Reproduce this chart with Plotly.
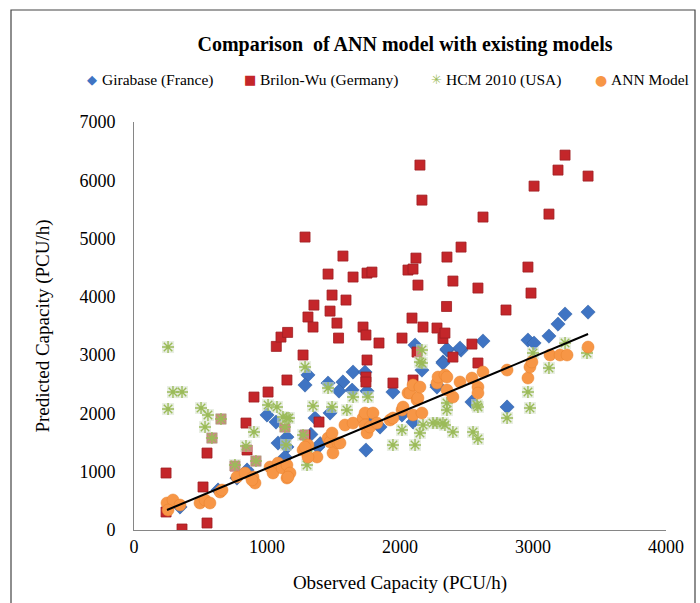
import plotly.graph_objects as go

# ---------------- data ----------------
gira_x = [1000, 1068, 1150, 1083, 1135, 850, 774, 632, 346, 1308, 1286, 1459, 1571, 1541,
          1647, 1737, 1752, 1947, 2113, 2165, 2323, 2353, 1150, 1135, 1361, 1383, 1744, 1774,
          1474, 2098, 2278, 3241, 3414, 3188, 3120, 2962, 3008, 2624, 2459, 2353, 2323, 2541,
          2805, 2278, 2451, 1850, 2015, 1330, 1400, 1640]
gira_y = [1973, 1852, 1595, 1492, 1235, 1029, 892, 686, 395, 2659, 2487, 2521, 2539, 2384,
          2710, 2710, 2384, 2367, 3173, 2744, 2882, 3087, 1424, 1252, 1921, 1424, 1372, 1973,
          2007, 1852, 2487, 3705, 3739, 3533, 3327, 3259, 3207, 3242, 3087, 3104, 2864, 2196,
          2110, 2453, 3122, 1767, 1973, 1640, 1480, 2400]

bril_x = [241, 241, 361, 519, 549, 549, 586, 654, 842, 850, 917, 759, 902, 1008, 1150, 1070,
          1105, 1155, 1135, 1391, 1286, 1271, 1286, 1308, 1346, 1353, 1474, 1459, 1489, 1526,
          1538, 1571, 1594, 1647, 1722, 1744, 1752, 1789, 1842, 1752, 1744, 1744, 1947, 2015,
          2090, 2098, 2128, 2060, 2098, 2120, 2135, 2150, 2165, 2173, 2278, 2323, 2350, 2353,
          2338, 2398, 2459, 2541, 2586, 2624, 2797, 2962, 2985, 3008, 3120, 3188, 3241, 3414,
          2398, 2586]
bril_y = [978, 309, 17, 738, 120, 1320, 1578, 1904, 1835, 1372, 1183, 1098, 2281, 2367, 2573,
          3150, 3310, 3390, 1767, 1852, 1630, 3002, 5026, 3654, 3482, 3859, 3756, 4391, 4031,
          3550, 3293, 4700, 3945, 4340, 3482, 3345, 4408, 4425, 3208, 2916, 2624, 2539, 2521,
          3293, 3636, 2573, 3053, 4460, 4477, 4665, 4202, 6261, 5660, 3482, 3465, 3285, 3835,
          4683, 3379, 4271, 4854, 3190, 4151, 5369, 3774, 4511, 4065, 5900, 5420, 6175, 6432,
          6072, 2967, 2865]

hcm_x = [256, 293, 361, 256, 504, 556, 534, 586, 654, 902, 842, 917, 759, 1008, 1075, 1120,
         1165, 1135, 1143, 1286, 1346, 1150, 1489, 1601, 1647, 1759, 1459, 2165, 2150, 1947,
         2015, 2113, 2173, 2248, 2323, 1308, 1271, 1301, 2353, 2278, 2338, 2398, 2549, 2586,
         2586, 2805, 2962, 2977, 3120, 3241, 3000, 3406, 2353, 2165, 2150, 2579]
hcm_y = [3139, 2367, 2367, 2075, 2093, 1973, 1767, 1578, 1904, 1681, 1441, 1183, 1115, 2144,
         2110, 1938, 1921, 1767, 1458, 2796, 2127, 1921, 2110, 2058, 2281, 2281, 2436, 3087,
         2882, 1458, 1715, 1458, 1801, 1835, 1835, 1407, 1630, 1115, 2058, 1835, 1801, 1681,
         1681, 1561, 2110, 1921, 2367, 2093, 2779, 3207, 3036, 3036, 2178, 2864, 1664, 2144]

ann_x = [248, 293, 346, 256, 496, 534, 571, 647, 662, 774, 835, 895, 910, 887, 1023, 1045,
         1083, 1113, 1150, 1173, 1150, 1158, 1271, 1308, 1376, 1286, 1308, 1459, 1474, 1489,
         1496, 1534, 1549, 1586, 1647, 1722, 1737, 1737, 1752, 1774, 1797, 1827, 1925, 1947,
         2015, 2023, 2060, 2075, 2098, 2098, 2128, 2135, 2150, 2165, 2278, 2286, 2338, 2353,
         2353, 2398, 2451, 2541, 2586, 2586, 2624, 2805, 2962, 2977, 2992, 3128, 3203, 3256,
         3414]
ann_y = [463, 515, 429, 343, 463, 515, 463, 652, 686, 909, 978, 909, 806, 858, 1081, 978,
         1149, 1063, 1115, 978, 892, 909, 1372, 1458, 1252, 1424, 1252, 1578, 1509, 1664,
         1321, 1492, 1492, 1801, 1835, 1921, 2007, 1801, 1664, 1767, 2007, 1835, 1887, 1921,
         2058, 2110, 2350, 2350, 2487, 1973, 2230, 2264, 2453, 2007, 2521, 2624, 2659, 2624,
         2401, 2281, 2539, 2607, 2453, 2350, 2710, 2744, 2607, 2796, 2882, 3002, 3002, 3002,
         3139]

trend_x = [248, 3414]
trend_y = [343, 3362]

series_names = ["Girabase (France)", "Brilon-Wu (Germany)", "HCM 2010 (USA)", "ANN Model"]
series_colors = ["#3F74C3", "#C4262A", "#9BBB59", "#F79646"]
legend_glyphs = ["\u25C6", "\u25A0", "\u2733", "\u25CF"]

title_text = "Comparison  of ANN model with existing models"
x_title = "Observed Capacity (PCU/h)"
y_title = "Predicted Capacity (PCU/h)"
x_ticks = [0, 1000, 2000, 3000, 4000]
y_ticks = [0, 1000, 2000, 3000, 4000, 5000, 6000, 7000]

FONT = "Liberation Serif, Times New Roman, serif"
W, H = 700, 603
L, R, T, B = 134, 34, 122, 73
PW, PH = W - L - R, H - T - B


def px_x(px):
    return (px - L) / PW


def px_y(py):
    return (H - B - py) / PH


fig = go.Figure()
fig.add_trace(go.Scatter(
    x=gira_x, y=gira_y, mode="markers", name=series_names[0], showlegend=False,
    marker=dict(symbol="diamond", size=11, color=series_colors[0],
                line=dict(width=0.5, color="#2E5C9E"))))
fig.add_trace(go.Scatter(
    x=bril_x, y=bril_y, mode="markers", name=series_names[1], showlegend=False,
    marker=dict(symbol="square", size=10, color=series_colors[1],
                line=dict(width=0.8, color="#9E1E22"))))
# faint box behind each star (the reference's marker shadow)
fig.add_trace(go.Scatter(
    x=hcm_x, y=hcm_y, mode="markers", showlegend=False, hoverinfo="skip",
    marker=dict(symbol="square", size=12, color="rgba(214,224,204,0.55)",
                line=dict(width=0))))
fig.add_trace(go.Scatter(
    x=hcm_x, y=hcm_y, mode="markers", name=series_names[2], showlegend=False,
    marker=dict(symbol="asterisk-open", size=10, color=series_colors[2],
                line=dict(width=1.4, color="#8DB04A"))))
fig.add_trace(go.Scatter(
    x=ann_x, y=ann_y, mode="markers", name=series_names[3], showlegend=False,
    marker=dict(symbol="circle", size=12, color=series_colors[3],
                line=dict(width=0.5, color="#E8822F"))))
fig.add_trace(go.Scatter(
    x=trend_x, y=trend_y, mode="lines", showlegend=False,
    line=dict(color="black", width=2)))

axis_common = dict(
    showgrid=False, zeroline=False, showline=True, linecolor="#868686", linewidth=1,
    ticks="", tickfont=dict(family=FONT, size=18, color="black"),
)

fig.update_layout(
    width=W, height=H,
    margin=dict(l=L, r=R, t=T, b=B, autoexpand=False),
    paper_bgcolor="white", plot_bgcolor="white",
    font=dict(family=FONT, color="black"),
    title=dict(text="<b>" + title_text + "</b>", x=405 / W, xanchor="center",
               y=1 - 44 / H, yanchor="middle",
               font=dict(family=FONT, size=20, color="black")),
    xaxis=dict(range=[0, 4000], tickvals=x_ticks, **axis_common,
               title=dict(text=x_title, font=dict(family=FONT, size=19, color="black"),
                          standoff=20)),
    yaxis=dict(range=[0, 7000], tickvals=y_ticks, ticklabelstandoff=14, **axis_common,
               title=dict(text=y_title, font=dict(family=FONT, size=19, color="black"),
                          standoff=24)),
    showlegend=False,
)

# legend row (symbol + label), laid out like the reference
sym_px = [92, 250, 436, 601]
txt_px = [100, 258, 444, 609]
sym_sizes = [13, 13, 13, 14]
legend_y = px_y(80)
for name, col, glyph, sx, tx, ss in zip(series_names, series_colors, legend_glyphs,
                                         sym_px, txt_px, sym_sizes):
    fig.add_annotation(x=px_x(sx), y=legend_y, xref="paper", yref="paper",
                       text=glyph, showarrow=False, xanchor="center", yanchor="middle",
                       font=dict(family="DejaVu Sans", size=ss, color=col))
    fig.add_annotation(x=px_x(tx), y=legend_y, xref="paper", yref="paper",
                       text=name, showarrow=False, xanchor="left", yanchor="middle",
                       font=dict(family=FONT, size=15.5, color="black"))

# outer frame of the chart
fig.add_shape(type="rect", xref="paper", yref="paper",
              x0=px_x(11), x1=px_x(695), y0=px_y(612), y1=px_y(10),
              line=dict(color="#444444", width=1.2), fillcolor="rgba(0,0,0,0)", layer="below")

fig.write_html("out.html", config={"displayModeBar": False},
               post_script="document.body.style.margin='0';document.body.style.overflow='hidden';")
